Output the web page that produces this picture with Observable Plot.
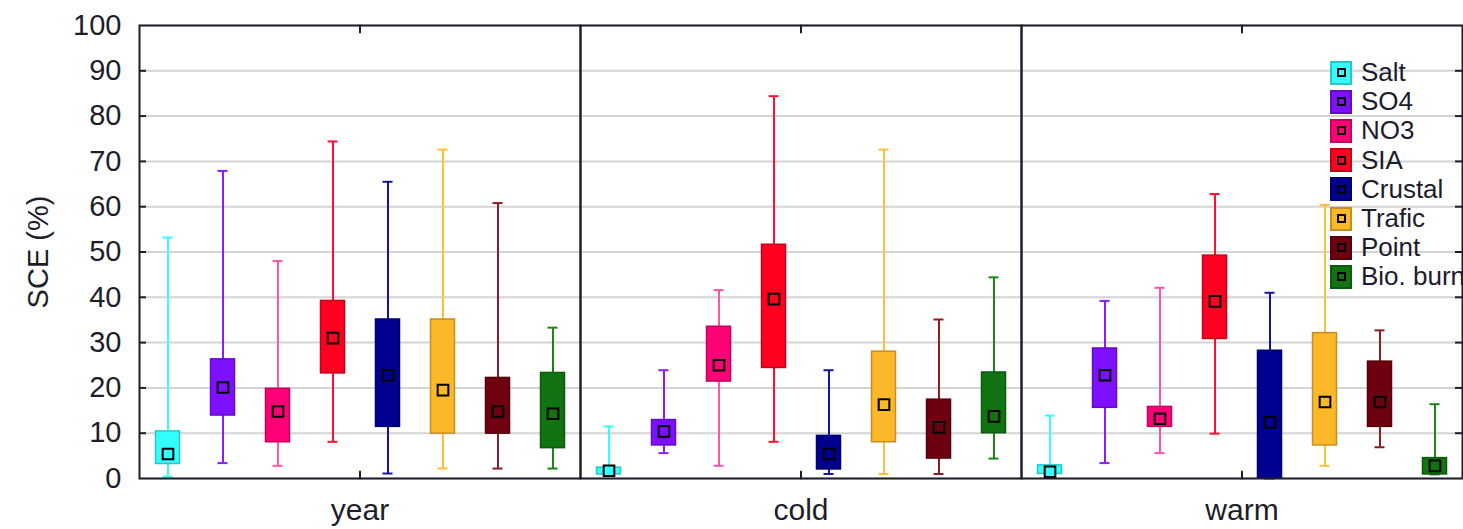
<!DOCTYPE html>
<html>
<head>
<meta charset="utf-8">
<script src="https://cdn.jsdelivr.net/npm/d3@7"></script>
<script src="https://cdn.jsdelivr.net/npm/@observablehq/plot@0.6"></script>
<style>
  html, body { margin: 0; padding: 0; background: #fff; overflow: hidden; }
  #wrap { position: relative; width: 1463px; height: 529px; }
  #legend { position: absolute; left: 1330px; top: 58px; font-family: "Liberation Sans", Arial, sans-serif;
            font-size: 26px; color: #1c1c2e; white-space: nowrap; }
  .row { display: flex; align-items: center; height: 29.2px; }
  .sw { width: 22px; height: 24px; box-sizing: border-box; border: 2px solid; display: flex;
        align-items: center; justify-content: center; margin-right: 9px; flex: none; }
  .sw i { display: block; width: 9px; height: 9px; border: 2px solid #000; box-sizing: border-box; }
</style>
</head>
<body>
<div id="wrap"><div id="legend"></div></div>
<script>
// Periods (facets) and source components
const periods = ["year", "cold", "warm"];
const components = ["Salt", "SO4", "NO3", "SIA", "Crustal", "Trafic", "Point", "Bio. burn"];
const fillColors = ["#33ffff", "#7f0fff", "#ff0077", "#ff0020", "#000090", "#fbb829", "#6e0010", "#117311"];
const whiskerColors = ["#33ffff", "#8a1cff", "#ff55a8", "#ff1030", "#1414a0", "#ffbf3a", "#8c1c26", "#1a861a"];

// SCE (%) statistics, one row per period (year, cold, warm), one value per component
const whiskerLow = [
  [0.4, 3.4, 2.8, 8.1, 1.1, 2.2, 2.2, 2.2],
  [0.5, 5.6, 2.8, 8.1, 1.0, 1.0, 1.0, 4.4],
  [0.5, 3.4, 5.6, 9.9, 0.0, 2.8, 6.9, 0.9]
];
const boxLow = [
  [3.2, 13.9, 8.0, 23.2, 11.4, 9.9, 9.9, 6.7],
  [0.9, 7.3, 21.4, 24.4, 2.0, 8.0, 4.4, 10.0],
  [1.0, 15.6, 11.4, 30.8, 0.0, 7.3, 11.4, 0.9]
];
const meanValue = [
  [5.4, 20.1, 14.8, 31.0, 22.8, 19.5, 14.8, 14.3],
  [1.7, 10.4, 25.0, 39.6, 5.4, 16.3, 11.3, 13.7],
  [1.5, 22.8, 13.2, 39.1, 12.4, 16.9, 16.9, 2.8]
];
const boxHigh = [
  [10.4, 26.3, 19.8, 39.2, 35.1, 35.1, 22.2, 23.3],
  [2.4, 12.9, 33.5, 51.6, 9.4, 28.0, 17.4, 23.4],
  [2.9, 28.7, 15.8, 49.2, 28.2, 32.1, 25.8, 4.5]
];
const whiskerHigh = [
  [53.2, 67.9, 48.0, 74.4, 65.5, 72.6, 60.8, 33.3],
  [11.5, 23.9, 41.6, 84.4, 23.9, 72.6, 35.1, 44.4],
  [13.9, 39.2, 42.1, 62.8, 41.0, 60.4, 32.7, 16.4]
];
const yTicks = d3.range(0, 101, 10);

// Long-format table for Plot
const rows = [];
periods.forEach((p, i) => components.forEach((c, j) => rows.push({
  period: p, component: c,
  lo: whiskerLow[i][j], q1: boxLow[i][j], mean: meanValue[i][j],
  q3: boxHigh[i][j], hi: whiskerHigh[i][j],
  fill: fillColors[j], whisker: whiskerColors[j],
  edge: d3.color(fillColors[j]).darker(0.7).formatHex()
})));

const font = "Liberation Sans, Arial, sans-serif";
const ink = "#1e1e2a";

// short straight tick used for the inward marks on the facet frames
const tickShape = { draw(context, l) { context.moveTo(0, 0); context.lineTo(0, -l); } };

const chart = Plot.plot({
  width: 1463,
  height: 529,
  marginLeft: 139,
  marginRight: 1,
  marginTop: 25,
  marginBottom: 51,
  style: { fontFamily: font, color: ink, background: "transparent" },
  fx: { domain: periods, padding: 0, label: null },
  x: { domain: components, padding: 0, axis: null },
  y: { domain: [0, 100] },
  color: { type: "identity" },
  marks: [
    Plot.gridY(yTicks, { stroke: "#d4d4d4", strokeOpacity: 1, strokeWidth: 2 }),
    // whiskers and caps
    Plot.ruleX(rows, { fx: "period", x: "component", y1: "lo", y2: "hi", stroke: "whisker", strokeWidth: 2 }),
    Plot.tickY(rows, { fx: "period", x: "component", y: "hi", stroke: "whisker", strokeWidth: 2, insetLeft: 22.5, insetRight: 22.5 }),
    Plot.tickY(rows, { fx: "period", x: "component", y: "lo", stroke: "whisker", strokeWidth: 2, insetLeft: 22.5, insetRight: 22.5 }),
    // interquartile boxes
    Plot.barY(rows, { fx: "period", x: "component", y1: "q1", y2: "q3", fill: "fill", stroke: "edge", strokeWidth: 1.5, insetLeft: 15.5, insetRight: 15.5 }),
    // mean markers
    Plot.dot(rows, { fx: "period", x: "component", y: "mean", symbol: "square", r: 6, fill: "fill", stroke: "#000", strokeWidth: 2 }),
    // small inward ticks on the left and right edges
    Plot.tickY(yTicks.slice(1, 10), { y: d => d, fx: () => "year", stroke: ink, strokeWidth: 2, insetRight: 434 }),
    Plot.tickY(yTicks.slice(1, 10), { y: d => d, fx: () => "warm", stroke: ink, strokeWidth: 2, insetLeft: 434 }),
    // inward ticks at the centre of each facet, top and bottom
    Plot.vector(periods, { fx: d => d, frameAnchor: "top", anchor: "start", rotate: 180, length: 7, shape: tickShape, stroke: ink, strokeWidth: 2 }),
    Plot.vector(periods, { fx: d => d, frameAnchor: "bottom", anchor: "start", rotate: 0, length: 7, shape: tickShape, stroke: ink, strokeWidth: 2 }),
    Plot.frame({ stroke: ink, strokeWidth: 2 }),
    Plot.axisY(yTicks, {
      anchor: "left", tickSize: 0, tickPadding: 18, fontSize: 29,
      label: "SCE (%)", labelArrow: "none", labelAnchor: "center", labelOffset: 112
    }),
    Plot.axisFx({ anchor: "bottom", tickSize: 0, tickPadding: 20, fontSize: 30, label: null })
  ]
});

const wrap = document.getElementById("wrap");
wrap.insertBefore(chart, wrap.firstChild);

// Legend: one swatch per component
const legend = d3.select("#legend");
components.forEach((c, j) => {
  const row = legend.append("div").attr("class", "row");
  row.append("span").attr("class", "sw")
    .style("background", fillColors[j])
    .style("border-color", d3.color(fillColors[j]).darker(0.7).formatHex())
    .append("i");
  row.append("span").text(c);
});
</script>
</body>
</html>
